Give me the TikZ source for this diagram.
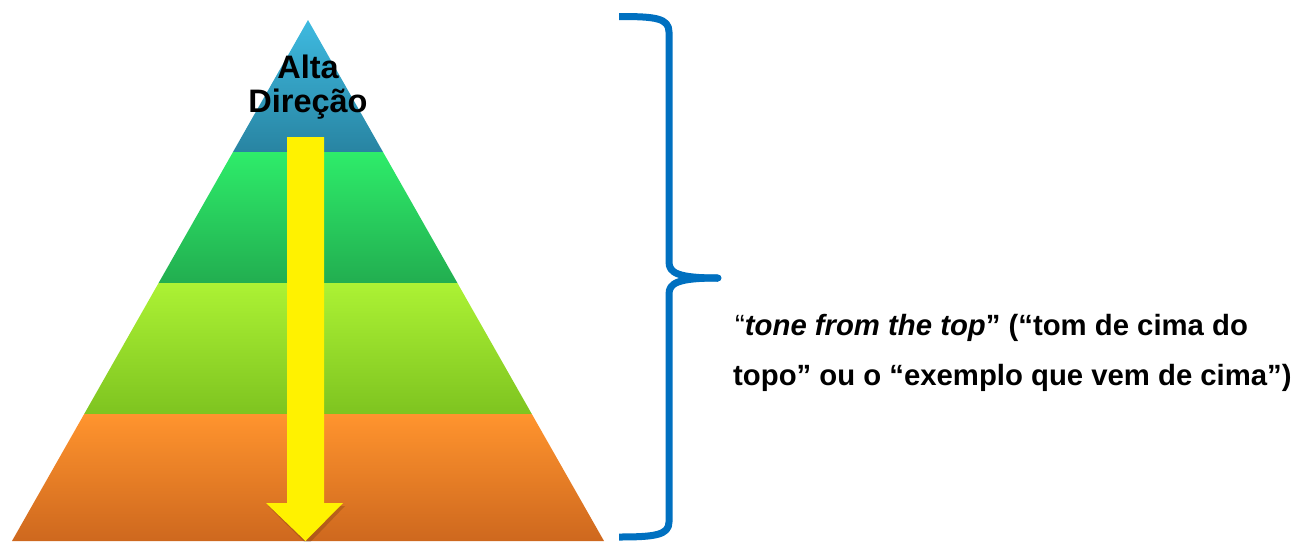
\documentclass[tikz,border=0pt]{standalone}
\usepackage{fontspec}
\setmainfont{Liberation Sans}
\definecolor{bluetop}{RGB}{62,186,224}
\definecolor{bluebot}{RGB}{40,132,162}
\definecolor{greentop}{RGB}{46,236,106}
\definecolor{greenbot}{RGB}{34,174,80}
\definecolor{limetop}{RGB}{172,242,52}
\definecolor{limebot}{RGB}{126,196,32}
\definecolor{orangetop}{RGB}{255,148,46}
\definecolor{orangebot}{RGB}{206,104,30}
\definecolor{bracecol}{RGB}{0,112,192}
\tikzset{
  layer/.style={draw=none},
  bigtxt/.style={font=\fontsize{32.5}{34}\selectfont\bfseries, inner sep=0pt, anchor=base},
  sidetxt/.style={font=\fontsize{29.3}{34}\selectfont\bfseries, inner sep=0pt, anchor=base west},
  bracestyle/.style={draw=bracecol, line width=7pt, line join=round}
}
\begin{document}
\begin{tikzpicture}[x=1pt,y=-1pt]
\useasboundingbox (0,0) rectangle (1296,541);
% pyramid layers
\shade[layer, top color=bluetop, bottom color=bluebot] (308,20) -- (383,152) -- (233,152) -- cycle;
\shade[layer, top color=greentop, bottom color=greenbot] (233,152) -- (383,152) -- (457.4,283) -- (158.6,283) -- cycle;
\shade[layer, top color=limetop, bottom color=limebot] (158.6,283) -- (457.4,283) -- (531.8,414) -- (84.2,414) -- cycle;
\shade[layer, top color=orangetop, bottom color=orangebot] (84.2,414) -- (531.8,414) -- (604,541) -- (12,541) -- cycle;
% yellow arrow
\fill[black, opacity=0.15] (268,506) -- (345,506) -- (307.5,545) -- cycle;
\fill[yellow] (287,137) -- (324,137) -- (324,503) -- (343,503) -- (305.5,541) -- (266,503) -- (287,503) -- cycle;
% labels
\node[bigtxt] (alta) at (308,78) {Alta};
\node[bigtxt] (direcao) at (308,112) {Direção};
% brace
\draw[bracestyle] (619,16.5) .. controls (655,16.5) and (669,18) .. (669,32) -- (669,262)
   .. controls (669,273) and (678,278) .. (718,278);
\draw[bracestyle] (718,278) .. controls (678,278) and (669,283) .. (669,294) -- (669,522)
   .. controls (669,535) and (655,537) .. (619,537);
\fill[bracecol] (718,278) circle (3.5pt);
% side text
\node[sidetxt] (line1) at (735,335) {{\mdseries “}\textit{tone from the top}” (“tom de cima do};
\node[sidetxt] (line2) at (733,385) {topo” ou o “exemplo que vem de cima”)};
\end{tikzpicture}
\end{document}
